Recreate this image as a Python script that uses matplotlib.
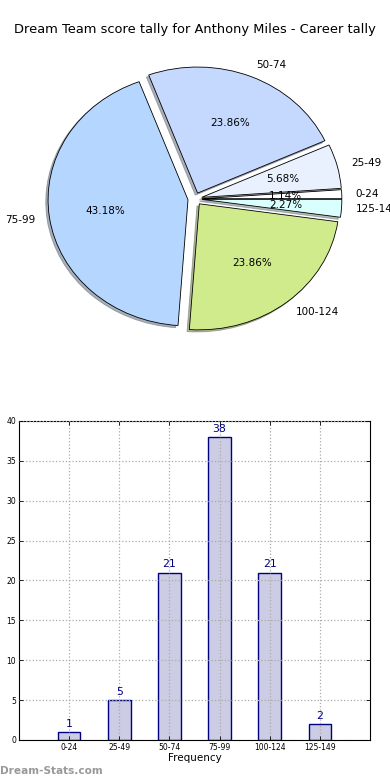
import matplotlib
matplotlib.use("Agg")
import matplotlib.pyplot as plt

categories = ["0-24", "25-49", "50-74", "75-99", "100-124", "125-149"]
counts = [1, 5, 21, 38, 21, 2]
pie_colors = ["#ffffff", "#e9f1ff", "#c5d9ff", "#b5d6ff", "#d0eb8c", "#d9ffff"]
title = "Dream Team score tally for Anthony Miles - Career tally"
yticks = [0, 5, 10, 15, 20, 25, 30, 35, 40]

fig = plt.figure(figsize=(3.9, 7.8), dpi=100)

# Pie
axp = fig.add_axes([0.0513, 0.543, 0.897, 0.404])
wedges, texts, autotexts = axp.pie(
    counts, labels=categories, colors=pie_colors, explode=[0.05] * len(counts),
    autopct="%1.2f%%", shadow={"ox": -0.012, "oy": -0.012, "shade": 0.55},
    startangle=0, labeldistance=1.1,
    pctdistance=0.6, wedgeprops=dict(edgecolor="black", linewidth=0.6),
    textprops=dict(fontsize=7.5))
axp.set_aspect("auto")
axp.set_xlim(-1.25, 1.25)
axp.set_ylim(-1.25, 1.25)
axp.axis("off")
fig.text(0.5, 0.962, title, ha="center", va="center", fontsize=9.4)

# Bar chart
axb = fig.add_axes([0.0487, 0.0513, 0.9, 0.409])
x = list(range(len(categories)))
bars = axb.bar(x, counts, width=0.45, color="#ccccE4", edgecolor="#000080", linewidth=1.0)
for xi, c in zip(x, counts):
    axb.text(xi, c + 0.4, str(c), ha="center", va="bottom", color="#000080", fontsize=7.8)
axb.set_xlim(-1, 6)
axb.set_ylim(0, 40)
axb.set_xticks(x)
axb.set_xticklabels(categories, fontsize=5.5)
axb.set_yticks(yticks)
axb.set_yticklabels([str(v) for v in yticks], fontsize=5.5)
axb.tick_params(direction="in", length=3, width=0.6, top=True, right=True, pad=2)
axb.set_axisbelow(False)
axb.grid(True, linestyle=":", color="#aaaaaa", linewidth=0.9)
axb.set_xlabel("Frequency", fontsize=7.5, labelpad=1)
for s in axb.spines.values():
    s.set_linewidth(0.8)

fig.text(0.0, 0.012, "Dream-Stats.com", ha="left", va="center", fontsize=7.6,
         color="#999999", fontweight="bold")

fig.savefig("out.png", dpi=100)
